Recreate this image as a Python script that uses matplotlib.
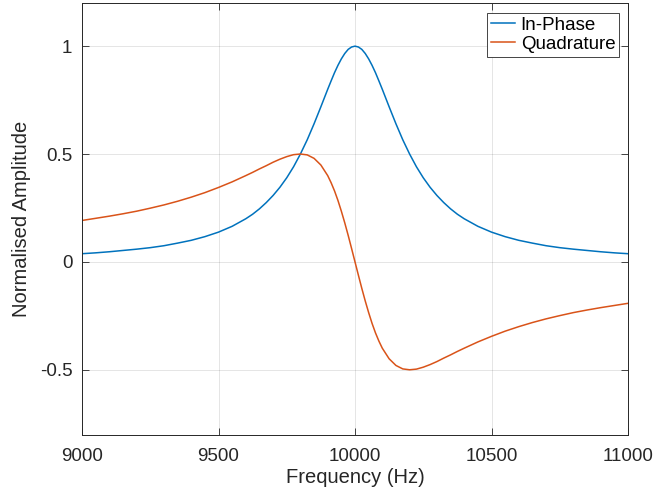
import matplotlib
matplotlib.use("Agg")
import matplotlib.pyplot as plt

plt.rcParams['font.family'] = ['Liberation Sans', 'DejaVu Sans']

# frequency samples (Hz)
freq = [9000, 9050, 9100, 9150, 9200, 9250, 9300, 9350, 9400, 9450, 9500, 9550, 9600,
        9625, 9650, 9675, 9700, 9725, 9750, 9775, 9800, 9825, 9850, 9875, 9900, 9912.5,
        9925, 9937.5, 9950, 9962.5, 9975, 9987.5, 10000, 10012.5, 10025, 10037.5, 10050,
        10062.5, 10075, 10087.5, 10100, 10125, 10150, 10175, 10200,
        10225, 10250, 10275, 10300, 10325, 10350, 10375, 10400, 10450, 10500, 10550,
        10600, 10650, 10700, 10750, 10800, 10850, 10900, 10950, 11000]

in_phase = [0.038, 0.042, 0.047, 0.053, 0.059, 0.066, 0.075, 0.087, 0.100, 0.117, 0.138, 0.165, 0.200,
            0.221, 0.246, 0.275, 0.308, 0.346, 0.390, 0.441, 0.500, 0.566, 0.640, 0.719, 0.800, 0.839,
            0.877, 0.911, 0.941, 0.966, 0.985, 0.996, 1.000, 0.996, 0.985, 0.966, 0.941,
            0.911, 0.877, 0.839, 0.800, 0.719, 0.640, 0.566, 0.500,
            0.441, 0.390, 0.346, 0.308, 0.275, 0.246, 0.221, 0.200, 0.165, 0.138, 0.117,
            0.100, 0.087, 0.075, 0.066, 0.059, 0.053, 0.047, 0.042, 0.038]

quadrature = [0.192, 0.202, 0.212, 0.223, 0.235, 0.249, 0.264, 0.281, 0.300, 0.321, 0.345, 0.371, 0.400,
              0.415, 0.431, 0.446, 0.462, 0.476, 0.488, 0.497, 0.500, 0.496, 0.480, 0.449, 0.400, 0.367,
              0.329, 0.285, 0.235, 0.181, 0.123, 0.062, 0.000, -0.062, -0.123, -0.181, -0.235,
              -0.285, -0.329, -0.367, -0.400, -0.449, -0.480, -0.496, -0.500,
              -0.497, -0.488, -0.476, -0.462, -0.446, -0.431, -0.415, -0.400, -0.371, -0.345, -0.321,
              -0.300, -0.281, -0.264, -0.249, -0.235, -0.223, -0.212, -0.202, -0.192]

xticks = [9000, 9500, 10000, 10500, 11000]
yticks = [-0.5, 0, 0.5, 1]
ytick_labels = ['-0.5', '0', '0.5', '1']

fig = plt.figure(figsize=(6.58, 4.94), dpi=100)
ax = fig.add_axes([82 / 658, 59.5 / 494, 546 / 658, 431.5 / 494])

ax.plot(freq, in_phase, color='#0072BD', lw=1.1, label='In-Phase', solid_joinstyle='round')
ax.plot(freq, quadrature, color='#D95319', lw=1.1, label='Quadrature', solid_joinstyle='round')

ax.set_xlim(9000, 11000)
ax.set_ylim(-0.8, 1.2)
ax.set_xticks(xticks)
ax.set_xticklabels([str(t) for t in xticks])
ax.set_yticks(yticks)
ax.set_yticklabels(ytick_labels)

ax.grid(True, color='#000000', alpha=0.12, lw=0.6)
ax.set_axisbelow(True)
ax.tick_params(direction='in', length=5, width=0.6, labelsize=13.5, colors='#262626',
               top=True, right=True)
ax.tick_params(axis='x', pad=10)
ax.tick_params(axis='y', pad=7)
for s in ax.spines.values():
    s.set_color('#262626')
    s.set_linewidth(0.7)

ax.set_xlabel('Frequency (Hz)', fontsize=14.5, color='#262626')
ax.set_ylabel('Normalised Amplitude', fontsize=14.5, color='#262626')
ax.xaxis.set_label_coords(0.5, -0.077)
ax.yaxis.set_label_coords(-0.094, 0.5)

leg = ax.legend(loc='upper right', bbox_to_anchor=(1 - 9 / 546, 1 - 10 / 431), borderaxespad=0,
                fontsize=13.5, handlelength=1.3, handletextpad=0.3, borderpad=0.2,
                labelspacing=0.1, fancybox=False, framealpha=1)
leg.get_frame().set_edgecolor('#262626')
leg.get_frame().set_linewidth(0.6)

fig.savefig('out.png', dpi=100)
